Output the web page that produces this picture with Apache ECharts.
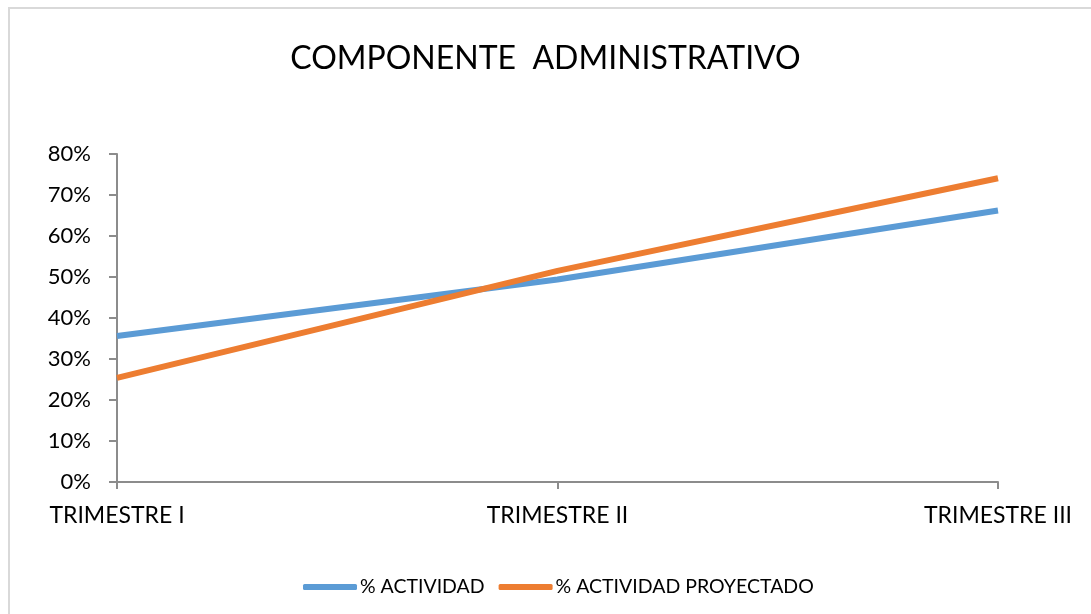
<!DOCTYPE html>
<html>
<head>
<meta charset="utf-8">
<script src="https://cdn.jsdelivr.net/npm/echarts@6/dist/echarts.min.js"></script>
<style>
html,body{margin:0;padding:0;background:#fff;}
#frame{position:absolute;left:8px;top:7px;width:1100px;height:620px;border:2px solid #d9d9d9;box-sizing:border-box;}
#chart{position:absolute;left:0;top:0;width:1091px;height:614px;}
</style>
</head>
<body>
<div id="frame"></div>
<div id="chart"></div>
<script>
const titleText = 'COMPONENTE  ADMINISTRATIVO';
const categories = ['TRIMESTRE I', 'TRIMESTRE II', 'TRIMESTRE III'];
const seriesNames = ['% ACTIVIDAD', '% ACTIVIDAD PROYECTADO'];
const actividad = [0.356, 0.494, 0.662];
const proyectado = [0.254, 0.515, 0.741];
const yTicks = [0, 0.1, 0.2, 0.3, 0.4, 0.5, 0.6, 0.7, 0.8];

const chart = echarts.init(document.getElementById('chart'), null, {renderer: 'canvas'});
const font = 'Lato, "Open Sans", sans-serif';
chart.setOption({
  animation: false,
  backgroundColor: 'transparent',
  color: ['#5B9BD5', '#ED7D31'],
  title: {
    text: titleText,
    left: 'center',
    top: 38,
    textStyle: {fontFamily: font, fontSize: 32, fontWeight: 'normal', color: '#000'}
  },
  legend: {
    bottom: 12,
    left: 298,
    itemWidth: 54,
    itemHeight: 6,
    itemGap: 14,
    icon: 'roundRect',
    textStyle: {fontFamily: font, fontSize: 19.5, color: '#000', padding: [0, 0, 0, -2]},
    data: seriesNames
  },
  grid: {left: 117, right: 93, top: 154, bottom: 132, containLabel: false},
  xAxis: {
    type: 'category',
    data: categories,
    boundaryGap: false,
    axisLine: {lineStyle: {color: '#8c8c8c', width: 2}},
    axisTick: {show: true, length: 7, lineStyle: {color: '#8c8c8c', width: 2}},
    axisLabel: {fontFamily: font, fontSize: 23, color: '#000', margin: 22}
  },
  yAxis: {
    type: 'value',
    min: yTicks[0],
    max: yTicks[yTicks.length - 1],
    interval: 0.1,
    splitLine: {show: false},
    axisLine: {show: true, lineStyle: {color: '#8c8c8c', width: 2}},
    axisTick: {show: true, length: 8, lineStyle: {color: '#8c8c8c', width: 2}},
    axisLabel: {fontFamily: font, fontSize: 22, color: '#000', margin: 26,
      formatter: v => Math.round(v * 100) + '%'}
  },
  series: [
    {name: seriesNames[0], type: 'line', data: actividad, symbol: 'none',
     lineStyle: {width: 6, color: '#5B9BD5', cap: 'butt'}},
    {name: seriesNames[1], type: 'line', data: proyectado, symbol: 'none',
     lineStyle: {width: 6, color: '#ED7D31', cap: 'butt'}}
  ]
});
</script>
</body>
</html>
